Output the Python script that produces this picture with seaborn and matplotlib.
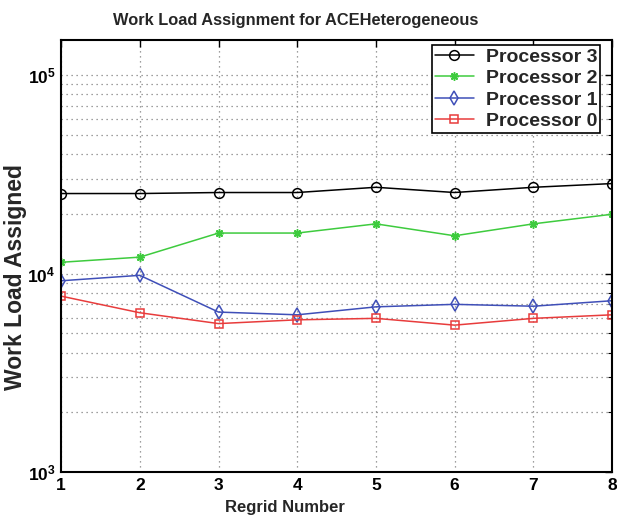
import numpy as np
import pandas as pd
import matplotlib
matplotlib.use("Agg")
import matplotlib.pyplot as plt
from matplotlib.ticker import FixedLocator, FixedFormatter, LogLocator, NullFormatter
import seaborn as sns

# values
regrid = [1, 2, 3, 4, 5, 6, 7, 8]
proc3 = [25300, 25300, 25600, 25600, 27200, 25600, 27200, 28400]
proc2 = [11400, 12100, 16000, 16000, 17800, 15500, 17800, 19900]
proc1 = [9200, 9800, 6400, 6200, 6800, 7000, 6850, 7300]
proc0 = [7700, 6350, 5600, 5850, 5950, 5500, 5950, 6200]
labels = ["Processor 3", "Processor 2", "Processor 1", "Processor 0"]

sns.set_style("white")
plt.rcParams['font.family'] = ['Liberation Sans', 'DejaVu Sans']
plt.rcParams['font.weight'] = 'bold'
plt.rcParams['mathtext.fontset'] = 'custom'
plt.rcParams['mathtext.rm'] = 'Liberation Sans:bold'
plt.rcParams['mathtext.it'] = 'Liberation Sans:bold'
plt.rcParams['mathtext.bf'] = 'Liberation Sans:bold'

fig = plt.figure(figsize=(6.17, 5.2), dpi=100)
ax = fig.add_axes([0.099, 0.092, 0.893, 0.831])

styles = [
    (proc3, 'black', 'o', 7),
    (proc2, '#3ecb3e', (8, 2, 0), 6),
    (proc1, '#3f4fb8', 'd', 7),
    (proc0, '#e83c3c', 's', 6),
]
for (vals, col, mk, ms), lab in zip(styles, labels):
    df = pd.DataFrame({'Regrid': regrid, 'Load': vals})
    sns.lineplot(data=df, x='Regrid', y='Load', ax=ax, color=col, marker=mk,
                 markersize=ms, markerfacecolor='none', markeredgecolor=col,
                 markeredgewidth=1.1, linewidth=1.1, label=lab)

ax.set_yscale('log')
ax.set_xlim(1, 8)
ax.set_ylim(1000, 150000)
ax.xaxis.set_major_locator(FixedLocator(regrid))
ax.yaxis.set_major_locator(FixedLocator([1e3, 1e4, 1e5]))
ax.yaxis.set_major_formatter(FixedFormatter([r'$10^{3}$', r'$10^{4}$', r'$10^{5}$']))
ax.yaxis.set_minor_locator(LogLocator(base=10, subs=np.arange(2, 10)))
ax.yaxis.set_minor_formatter(NullFormatter())

ax.grid(True, which='major', linestyle=(0, (1, 3)), color='#808080', linewidth=0.9)
ax.grid(True, which='minor', axis='y', linestyle=(0, (1, 3)), color='#808080', linewidth=0.9)
ax.tick_params(which='both', direction='in', top=True, right=True, colors='black',
               labelsize=12.5, pad=4)
ax.tick_params(which='major', length=5, width=1)
ax.tick_params(which='minor', length=3, width=0.8)
for s in ax.spines.values():
    s.set_color('black')
    s.set_linewidth(1.5)

ax.set_title('Work Load Assignment for ACEHeterogeneous', fontsize=11.8,
             fontweight='bold', pad=11, x=0.425)
ax.set_xlabel('Regrid Number', fontsize=12, fontweight='bold')
ax.xaxis.set_label_coords(0.4065, -0.064)
ax.set_ylabel('Work Load Assigned', fontsize=16.5, fontweight='bold')
ax.yaxis.set_label_coords(-0.062, 0.451)

leg = ax.legend(loc='upper right', bbox_to_anchor=(0.978, 0.988), fontsize=14,
                frameon=True, fancybox=False, framealpha=1, edgecolor='black',
                handlelength=2.0, borderpad=0.15, labelspacing=0.2,
                handletextpad=0.6, borderaxespad=0)
leg.get_frame().set_linewidth(1.2)
for t in leg.get_texts():
    t.set_fontweight('bold')

fig.savefig('out.png', dpi=100)
